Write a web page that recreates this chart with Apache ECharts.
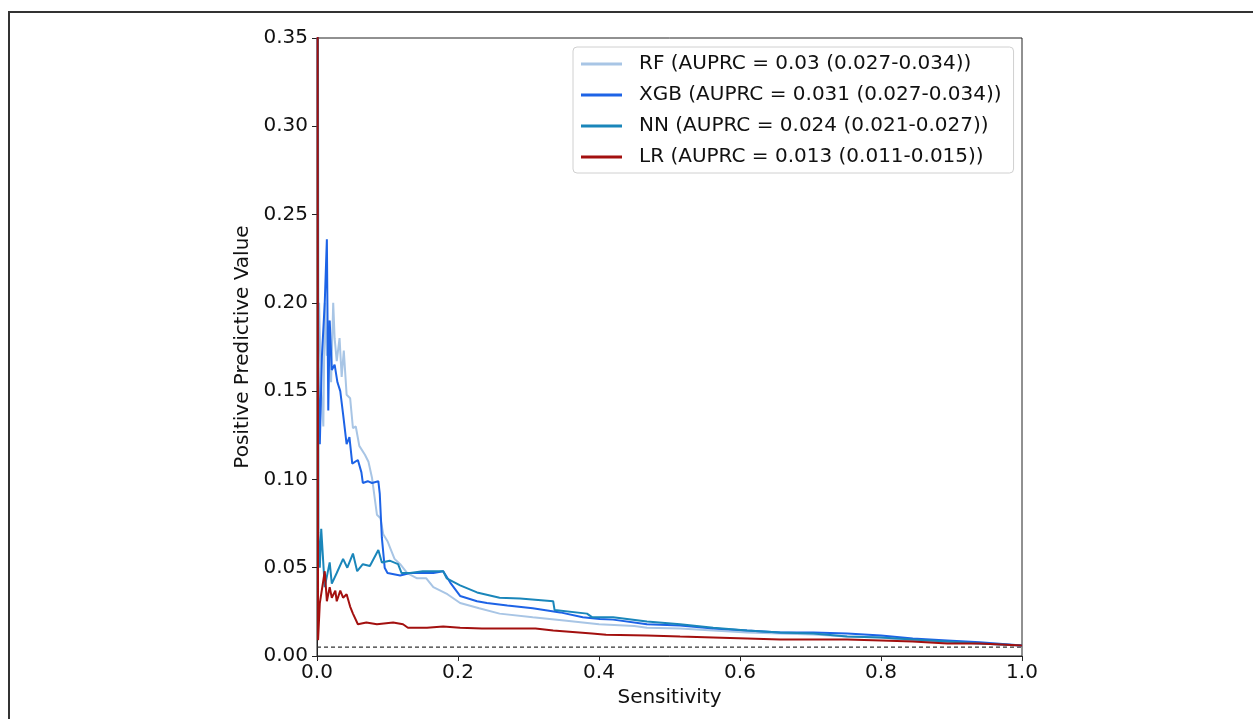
<!DOCTYPE html>
<html>
<head>
<meta charset="utf-8">
<script src="https://cdn.jsdelivr.net/npm/echarts@6/dist/echarts.min.js"></script>
<style>html,body{margin:0;padding:0;background:#fff;}#c{width:1253px;height:719px;}</style>
</head>
<body>
<div id="c"></div>
<script>
// Sensitivity (x) / Positive Predictive Value (y)
const rfSens = [0,0.0015,0.003,0.006,0.009,0.011,0.014,0.017,0.02,0.023,0.025,0.028,0.032,0.035,0.038,0.042,0.047,0.051,0.055,0.06,0.068,0.073,0.078,0.085,0.09,0.094,0.1,0.104,0.11,0.118,0.128,0.142,0.155,0.165,0.185,0.203,0.23,0.259,0.306,0.354,0.4,0.45,0.468,0.515,0.562,0.61,0.657,0.704,0.752,0.8,0.845,0.894,0.94,1.0];
const rfPPV  = [1.0,0.167,0.20,0.15,0.13,0.20,0.17,0.19,0.155,0.20,0.18,0.167,0.18,0.158,0.173,0.148,0.146,0.129,0.13,0.119,0.114,0.11,0.101,0.08,0.078,0.069,0.065,0.061,0.055,0.052,0.047,0.044,0.044,0.039,0.035,0.030,0.027,0.024,0.022,0.020,0.018,0.017,0.016,0.0156,0.0144,0.0133,0.0127,0.0122,0.011,0.0105,0.0088,0.0076,0.0071,0.006];

const xgbSens = [0,0.0015,0.004,0.007,0.011,0.014,0.016,0.018,0.021,0.025,0.029,0.033,0.037,0.042,0.046,0.050,0.058,0.063,0.065,0.072,0.078,0.087,0.089,0.092,0.096,0.10,0.118,0.132,0.146,0.165,0.179,0.189,0.203,0.227,0.241,0.27,0.306,0.345,0.377,0.401,0.42,0.468,0.515,0.562,0.61,0.657,0.704,0.752,0.8,0.845,0.894,0.94,1.0];
const xgbPPV  = [1.0,0.165,0.12,0.17,0.20,0.236,0.139,0.19,0.162,0.165,0.155,0.15,0.137,0.12,0.124,0.109,0.111,0.104,0.098,0.099,0.098,0.099,0.092,0.067,0.050,0.047,0.0456,0.047,0.047,0.047,0.048,0.0416,0.034,0.031,0.030,0.0286,0.027,0.0247,0.022,0.021,0.0206,0.018,0.0173,0.0156,0.0144,0.0133,0.0133,0.0127,0.0116,0.0099,0.0088,0.0078,0.006];

const nnSens = [0,0.002,0.004,0.006,0.011,0.018,0.021,0.028,0.037,0.043,0.051,0.057,0.065,0.075,0.087,0.092,0.103,0.115,0.12,0.132,0.15,0.179,0.184,0.203,0.227,0.259,0.288,0.335,0.337,0.383,0.39,0.42,0.468,0.515,0.562,0.61,0.657,0.704,0.752,0.8,0.845,0.894,0.94,1.0];
const nnPPV  = [1.0,0.07,0.05,0.072,0.039,0.053,0.041,0.047,0.055,0.050,0.058,0.048,0.052,0.051,0.060,0.053,0.054,0.052,0.047,0.047,0.048,0.048,0.044,0.040,0.036,0.033,0.0325,0.031,0.026,0.024,0.022,0.022,0.0195,0.018,0.016,0.0144,0.0133,0.0127,0.011,0.0105,0.0093,0.0082,0.0071,0.006];

const lrSens = [0,0.0015,0.004,0.011,0.014,0.018,0.021,0.026,0.028,0.033,0.037,0.042,0.047,0.051,0.058,0.07,0.085,0.108,0.122,0.129,0.156,0.179,0.203,0.234,0.31,0.335,0.39,0.41,0.468,0.515,0.562,0.61,0.657,0.752,0.8,0.845,0.894,0.94,1.0];
const lrPPV  = [1.0,0.009,0.03,0.048,0.031,0.039,0.033,0.037,0.031,0.037,0.033,0.035,0.028,0.024,0.018,0.019,0.018,0.019,0.018,0.016,0.016,0.0167,0.016,0.0156,0.0156,0.0144,0.0127,0.012,0.0116,0.011,0.0105,0.0099,0.0093,0.0093,0.0088,0.0082,0.0071,0.0071,0.006];

const baselineSens = [0, 1];
const baselinePPV = [0.005, 0.005];

const seriesNames = ['RF (AUPRC = 0.03 (0.027-0.034))','XGB (AUPRC = 0.031 (0.027-0.034))','NN (AUPRC = 0.024 (0.021-0.027))','LR (AUPRC = 0.013 (0.011-0.015))'];
const seriesColors = ['#a8c5e5','#1d63e6','#1a86ba','#a3100f'];
const xTicks = [0,0.2,0.4,0.6,0.8,1.0];
const yTicks = [0,0.05,0.10,0.15,0.20,0.25,0.30,0.35];

const zip = (a,b) => a.map((v,i)=>[v,b[i]]);
const seriesData = [zip(rfSens,rfPPV), zip(xgbSens,xgbPPV), zip(nnSens,nnPPV), zip(lrSens,lrPPV)];

const font = 'DejaVu Sans';
const chart = echarts.init(document.getElementById('c'), null, {renderer:'canvas'});
const series = seriesNames.map((n,i)=>({
  name:n, type:'line', data:seriesData[i], showSymbol:false, symbol:'none',
  lineStyle:{width:2, color:seriesColors[i]}, itemStyle:{color:seriesColors[i]},
  clip:true, animation:false, z:2+i
}));
series.push({
  name:'baseline', type:'line', data:zip(baselineSens,baselinePPV), symbol:'none',
  lineStyle:{width:1.2, color:'#333', type:[4,3]}, clip:true, animation:false, z:1
});
chart.setOption({
  animation:false,
  backgroundColor:'#fff',
  graphic:[{type:'rect', shape:{x:9, y:12, width:1400, height:900}, style:{fill:'none', stroke:'#333', lineWidth:2}, z:-1, silent:true}],
  grid:{left:317, top:38, right:231, bottom:63, show:true, borderColor:'#222', borderWidth:1, backgroundColor:'transparent'},
  legend:{
    data:seriesNames, orient:'vertical', left:573, top:47,
    padding:[6,12,5,8], itemGap:9, itemWidth:41, itemHeight:3, icon:'rect',
    backgroundColor:'rgba(255,255,255,0.85)', borderColor:'#d0d0d0', borderWidth:1, borderRadius:4,
    textStyle:{fontFamily:font, fontSize:20, color:'#111', lineHeight:22, padding:[0,0,0,12]}
  },
  xAxis:{
    type:'value', min:0, max:1, interval:0.2,
    name:'Sensitivity', nameLocation:'middle', nameGap:30,
    nameTextStyle:{fontFamily:font, fontSize:20, color:'#111'},
    axisLine:{show:true, lineStyle:{color:'#222', width:1}},
    axisTick:{show:true, length:5, lineStyle:{color:'#222'}},
    axisLabel:{fontFamily:font, fontSize:20, color:'#111', margin:7, showMinLabel:true, showMaxLabel:true,
      formatter:v=>v.toFixed(1)},
    splitLine:{show:false}
  },
  yAxis:{
    type:'value', min:0, max:0.35, interval:0.05,
    name:'Positive Predictive Value', nameLocation:'middle', nameGap:55,
    nameTextStyle:{fontFamily:font, fontSize:20, color:'#111'},
    axisLine:{show:true, lineStyle:{color:'#222', width:1}},
    axisTick:{show:true, length:5, lineStyle:{color:'#222'}},
    axisLabel:{fontFamily:font, fontSize:20, color:'#111', margin:9, showMinLabel:true, showMaxLabel:true,
      formatter:v=>v.toFixed(2)},
    splitLine:{show:false}
  },
  series:series
});
</script>
</body>
</html>
